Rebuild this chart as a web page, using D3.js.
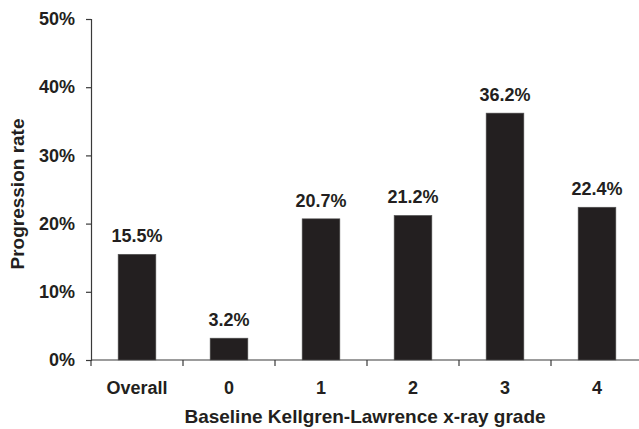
<!DOCTYPE html>
<html>
<head>
<meta charset="utf-8">
<script src="https://cdn.jsdelivr.net/npm/d3@7"></script>
<style>
  html, body { margin: 0; padding: 0; background: #fff; }
  svg { display: block; }
  text { font-family: "Liberation Sans", Arial, Helvetica, sans-serif; font-weight: bold; fill: #231f20; }
</style>
</head>
<body>
<svg id="chart" width="639" height="429"></svg>
<script>
// Progression rate by baseline Kellgren-Lawrence grade
const categories = ["Overall", "0", "1", "2", "3", "4"];
const rates = [15.5, 3.2, 20.7, 21.2, 36.2, 22.4];
const yTicks = [0, 10, 20, 30, 40, 50];

const svg = d3.select("#chart");
const plot = { left: 91, right: 643, top: 19, bottom: 360 };
const fontSize = 18;
const titleSize = 19;

const x = d3.scaleBand()
  .domain(categories)
  .range([plot.left, plot.right])
  .paddingInner(0.59)
  .paddingOuter(0.295);

const y = d3.scaleLinear()
  .domain([0, 50])
  .range([plot.bottom, plot.top]);

const axisColor = "#3a3a3a";

// Y axis
const yAxis = svg.append("g")
  .attr("transform", `translate(${plot.left},0)`)
  .call(d3.axisLeft(y).tickValues(yTicks).tickSize(5).tickPadding(11).tickFormat(d => d + "%"));
yAxis.select(".domain").attr("stroke", axisColor).attr("stroke-width", 1.2);
yAxis.selectAll(".tick line").attr("stroke", axisColor).attr("stroke-width", 1.2);
yAxis.selectAll(".tick text").attr("font-size", fontSize).attr("font-family", null).attr("fill", null);

// X axis baseline with ticks between categories
const step = x.step();
const boundaries = d3.range(categories.length + 1).map(i => plot.left + i * step);
svg.append("line")
  .attr("x1", plot.left).attr("x2", plot.right)
  .attr("y1", y(0)).attr("y2", y(0))
  .attr("stroke", axisColor).attr("stroke-width", 1.2);
svg.append("g").selectAll("line")
  .data(boundaries)
  .join("line")
  .attr("x1", d => d).attr("x2", d => d)
  .attr("y1", y(0)).attr("y2", y(0) + 6)
  .attr("stroke", axisColor).attr("stroke-width", 1.2);

svg.append("g").selectAll("text")
  .data(categories)
  .join("text")
  .attr("x", d => x(d) + x.bandwidth() / 2)
  .attr("y", 394)
  .attr("text-anchor", "middle")
  .attr("font-size", fontSize)
  .text(d => d);

// Bars
svg.append("g").selectAll("rect")
  .data(categories.map((c, i) => ({ c, v: rates[i] })))
  .join("rect")
  .attr("x", d => x(d.c))
  .attr("width", x.bandwidth())
  .attr("y", d => y(d.v))
  .attr("height", d => y(0) - y(d.v))
  .attr("fill", "#231f20")
  .attr("stroke", "#555")
  .attr("stroke-width", 0.6);

// Value labels
svg.append("g").selectAll("text")
  .data(categories.map((c, i) => ({ c, v: rates[i] })))
  .join("text")
  .attr("x", d => x(d.c) + x.bandwidth() / 2)
  .attr("y", d => y(d.v) - 12)
  .attr("text-anchor", "middle")
  .attr("font-size", fontSize)
  .text(d => d.v.toFixed(1) + "%");

// Axis titles
svg.append("text")
  .attr("x", 365)
  .attr("y", 423)
  .attr("text-anchor", "middle")
  .attr("font-size", titleSize)
  .text("Baseline Kellgren-Lawrence x-ray grade");

svg.append("text")
  .attr("transform", "translate(24,194) rotate(-90)")
  .attr("text-anchor", "middle")
  .attr("font-size", titleSize)
  .text("Progression rate");
</script>
</body>
</html>
